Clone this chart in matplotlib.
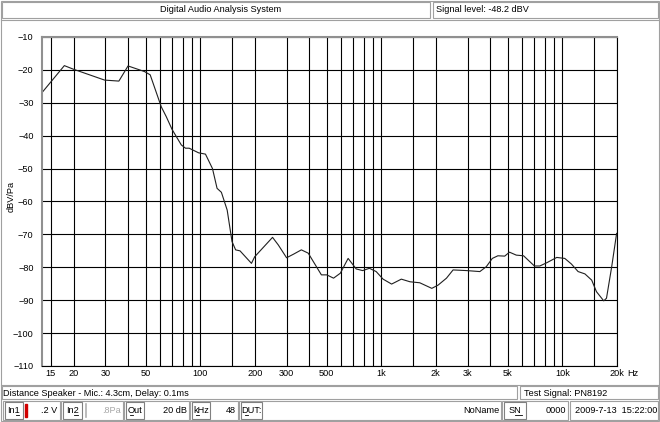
import matplotlib.pyplot as plt
from matplotlib.patches import Rectangle

plt.rcParams['font.family'] = ['Liberation Sans', 'DejaVu Sans']
FS = 6.6

# frequency response (Hz, dBV/Pa)
freq = [13.4, 17.8, 20, 29.7, 35.6, 40, 49.3, 53, 61, 65, 70, 78.7, 83, 87, 98, 107,
        117, 124, 131, 141, 150, 157, 166, 192, 200, 251, 270, 300, 328, 362, 395,
        467, 500, 545, 594, 656, 727, 789, 860, 937, 1023, 1140, 1290, 1440, 1630,
        1900, 2060, 2290, 2490, 2960, 3500, 3800, 4100, 4400, 4800, 5100, 5560, 6100,
        7000, 7500, 8200, 9300, 10300, 11200, 12200, 13300, 14500, 15400, 16900,
        17500, 18700, 19900]
level = [-26.9, -18.7, -19.8, -23.1, -23.4, -18.8, -20.5, -21.5, -31.2, -34.2, -38.1,
         -42.8, -43.8, -43.8, -45.2, -45.6, -50.0, -56.0, -57.2, -62.6, -72.2, -74.7,
         -75.0, -78.8, -76.8, -70.9, -73.2, -77.1, -76.0, -74.7, -75.7, -82.3, -82.3,
         -83.3, -81.8, -77.3, -80.5, -81.0, -80.3, -81.3, -83.6, -85.1, -83.6, -84.4,
         -84.7, -86.4, -85.4, -83.3, -80.8, -81.0, -81.3, -79.8, -77.3, -76.5, -76.6,
         -75.4, -76.3, -76.5, -79.6, -79.6, -78.6, -77.0, -77.3, -79.0, -81.3, -82.0,
         -83.9, -87.4, -90.2, -89.4, -79.8, -69.7]

grid_freqs = [15] + [m * 10 ** k for k in (1, 2, 3) for m in (2, 3, 4, 5, 6, 7, 8, 9, 10, 15)] + [20000]
grid_freqs = sorted(set(f for f in grid_freqs if f > 14))
freq_labels = {15: '15', 20: '20', 30: '30', 50: '50', 100: '100', 200: '200', 300: '300',
               500: '500', 1000: '1k', 2000: '2k', 3000: '3k', 5000: '5k', 10000: '10k',
               20000: '20k'}
db_ticks = list(range(-110, 0, 10))

fig = plt.figure(figsize=(6.6, 4.22), dpi=100)

# window chrome, drawn in pixel coords
ui = fig.add_axes([0, 0, 1, 1])
ui.set_xlim(0, 660)
ui.set_ylim(422, 0)
ui.axis('off')

GRAY = '#a0a0a0'


def box(x0, y0, x1, y1, ec=GRAY, lw=0.8):
    ui.add_patch(Rectangle((x0, y0), x1 - x0, y1 - y0, fill=False, ec=ec, lw=lw))


def button(x0, x1, label, ul):
    box(x0, 402, x1, 419, ec='#808080')
    ui.text((x0 + x1) / 2, 410.5, label, ha='center', va='center', fontsize=FS)
    # underline the hot key letter
    w = (x1 - x0 - 8) / len(label)
    ux = (x0 + x1) / 2 - w * len(label) / 2 + w * ul
    ui.plot([ux, ux + w], [415, 415], color='black', lw=0.6)


box(1, 1, 659, 421)
box(2, 2, 430, 18)
box(433, 2, 658, 18)
ui.text(221, 10, 'Digital Audio Analysis System', ha='center', va='center', fontsize=FS)
ui.text(436, 10, 'Signal level: -48.2 dBV', ha='left', va='center', fontsize=FS)
ui.plot([1, 659], [20, 20], color=GRAY, lw=0.8)

# status lines
ui.plot([1, 659], [385, 385], color=GRAY, lw=0.8)
box(2, 386, 517, 399)
box(520, 386, 658, 399)
ui.text(3, 393, 'Distance Speaker - Mic.: 4.3cm, Delay: 0.1ms', ha='left', va='center', fontsize=FS)
ui.text(524, 393, 'Test Signal: PN8192', ha='left', va='center', fontsize=FS)

box(3, 401, 60, 420)
button(5, 23, 'In1', 2)
ui.add_patch(Rectangle((24.5, 404), 2, 13, color='#d00000'))
ui.text(57, 410.5, '.2 V', ha='right', va='center', fontsize=FS)
box(61, 401, 123, 420)
button(63, 82, 'In2', 2)
ui.plot([85.5, 85.5], [404, 417], color='#b0b0b0', lw=1.2)
ui.text(121, 410.5, '.8Pa', ha='right', va='center', fontsize=FS, color='#a8a8a8')
box(124, 401, 189, 420)
button(126, 144, 'Out', 0)
ui.text(187, 410.5, '20 dB', ha='right', va='center', fontsize=FS)
box(190, 401, 238, 420)
button(192, 210, 'kHz', 0)
ui.text(236, 410.5, '48', ha='right', va='center', fontsize=FS)
box(239, 401, 501, 420)
button(241, 262, 'DUT:', 0)
ui.text(499, 410.5, 'NoName', ha='right', va='center', fontsize=FS)
box(502, 401, 568, 420)
button(504, 526, 'SN', 1)
ui.text(566, 410.5, '0000', ha='right', va='center', fontsize=FS)
box(570, 401, 658, 420)
ui.text(575, 410.5, '2009-7-13  15:22:00', ha='left', va='center', fontsize=FS)

# the graph itself
ax = fig.add_axes([42 / 660, (422 - 366) / 422, (617 - 42) / 660, (366 - 37) / 422])
ax.set_xscale('log')
ax.plot(freq, level, color='#202020', lw=0.8)
ax.set_xlim(13.4, 20000)
ax.set_ylim(-110, -10)

ax.set_xticks(grid_freqs)
ax.set_xticklabels([freq_labels.get(f, '') for f in grid_freqs])
ax.xaxis.set_minor_locator(plt.NullLocator())
ax.set_yticks(db_ticks)
ax.tick_params(axis='x', length=0, pad=2.5, labelsize=FS)
ax.tick_params(axis='y', length=0, pad=6, labelsize=FS)
ax.grid(True, color='black', lw=0.8)
ax.set_axisbelow(True)
for side in ('top', 'left'):
    ax.spines[side].set_color('#909090')
    ax.spines[side].set_linewidth(1.5)
for side in ('right', 'bottom'):
    ax.spines[side].set_color('black')
    ax.spines[side].set_linewidth(0.8)

ui.text(627, 374, 'Hz', ha='left', va='center', fontsize=FS)
ui.text(11, 196, 'dBV/Pa', rotation=90, ha='center', va='center', fontsize=FS)

fig.savefig('out.png', dpi=100)
